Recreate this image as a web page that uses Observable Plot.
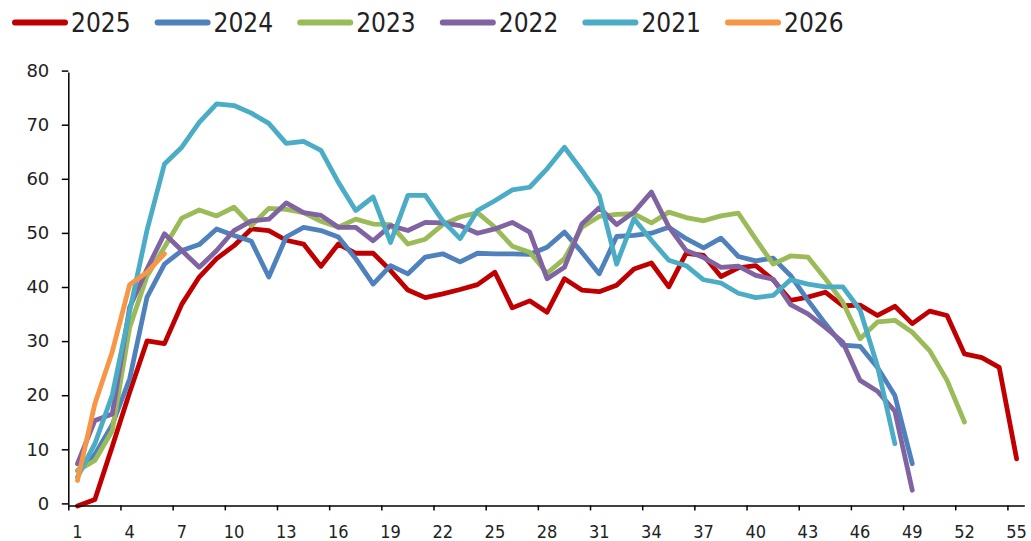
<!DOCTYPE html>
<html>
<head>
<meta charset="utf-8">
<script src="https://cdn.jsdelivr.net/npm/d3@7"></script>
<script src="https://cdn.jsdelivr.net/npm/@observablehq/plot@0.6"></script>
<style>
  html, body { margin: 0; padding: 0; background: #fff; overflow: hidden; }
  #legend { display: block; }
  #chart svg { display: block; }
</style>
</head>
<body>
<svg id="legend" width="1031" height="42"></svg>
<div id="chart"></div>
<script>
// ---- data ----
const seriesNames = ["2025", "2024", "2023", "2022", "2021", "2026"];
const seriesColors = ["#C00000", "#4F81BD", "#9BBB59", "#8064A2", "#4BACC6", "#F79646"];

const s2025 = [0, 1.2, 11, 21, 30.5, 30, 37.3, 42.3, 45.7, 48.1, 51.2, 50.9, 49.1, 48.4, 44.3,
  48.4, 46.7, 46.7, 43.5, 39.9, 38.5, 39.2, 40.0, 40.9, 43.2, 36.6, 37.9, 35.8, 42.0, 39.9,
  39.6, 40.8, 43.8, 44.9, 40.5, 46.7, 46.3, 42.4, 44.0, 44.4, 41.8, 38.0, 38.6, 39.5, 37.0,
  37.1, 35.2, 36.9, 33.7, 36.0, 35.2, 28.1, 27.4, 25.6, 8.7];
const s2024 = [6.5, 9.5, 15, 23.5, 38.6, 44.7, 47.2, 48.3, 51.2, 50.0, 48.9, 42.3, 49.7, 51.5, 50.9,
  49.7, 45.7, 41.0, 44.4, 42.9, 46.0, 46.6, 45.1, 46.7, 46.6, 46.6, 46.5, 47.8, 50.6, 46.9,
  42.9, 49.8, 50.0, 50.4, 51.5, 49.4, 47.7, 49.5, 46.1, 45.3, 45.8, 42.6, 38.0, 33.7, 29.7,
  29.5, 25.6, 20.4, 7.8];
const s2023 = [6.5, 8.4, 13.9, 33, 42.5, 47.8, 53.2, 54.7, 53.6, 55.2, 51.8, 55.0, 54.8, 54.2, 52.6,
  51.5, 53.0, 52.1, 52.0, 48.4, 49.3, 52.0, 53.4, 54.2, 51.5, 48.0, 46.9, 43.0, 45.7, 51.5,
  53.5, 53.9, 54.0, 52.3, 54.3, 53.3, 52.7, 53.6, 54.1, 49.3, 44.7, 46.2, 46.0, 42.0, 37.7,
  30.9, 34.0, 34.3, 32.1, 28.7, 23.2, 15.5];
const s2022 = [7.8, 15.8, 17.0, 36.7, 43.8, 50.3, 47.2, 44.1, 47.2, 50.9, 52.7, 53.0, 56.0, 54.2, 53.7,
  51.5, 51.5, 49.0, 51.8, 50.9, 52.4, 52.3, 51.8, 50.4, 51.2, 52.4, 50.6, 42.0, 44.1, 52.1,
  55.1, 52.0, 54.3, 58.0, 51.6, 47.2, 45.9, 44.1, 44.3, 42.6, 41.9, 37.2, 35.5, 33.0, 30.3,
  23.2, 21.2, 17.5, 2.9];
const s2021 = [5.3, 11.5, 20.5, 36, 51, 63.2, 66.3, 70.9, 74.3, 74.0, 72.6, 70.7, 67.0, 67.4, 65.7,
  59.8, 54.6, 57.1, 48.7, 57.4, 57.4, 52.7, 49.4, 54.6, 56.4, 58.4, 58.9, 62.3, 66.3, 62.0,
  57.4, 44.7, 53.1, 49.1, 45.4, 44.4, 41.8, 41.2, 39.3, 38.5, 38.9, 41.8, 41.0, 40.5, 40.5,
  36.2, 25.8, 11.5];
const s2026 = [4.7, 18.9, 28.5, 40.9, 43.2, 46.6];

const xTickLabels = [1, 4, 7, 10, 13, 16, 19, 22, 25, 28, 31, 34, 37, 40, 43, 46, 49, 52, 55];
const xTickMarks = [0.5, 3.5, 6.5, 9.5, 12.5, 15.5, 18.5, 21.5, 24.5, 27.5, 30.5, 33.5, 36.5, 39.5, 42.5, 45.5, 48.5, 51.5, 54.5];
const yTicks = [0, 10, 20, 30, 40, 50, 60, 70, 80];

// ---- build ----
const allSeries = [s2025, s2024, s2023, s2022, s2021, s2026];
const toRows = (arr) => arr.map((v, i) => ({week: i + 1, value: v}));

const condensed = "'Liberation Sans Narrow', 'DejaVu Sans Condensed', 'Arial Narrow', sans-serif";

const lineMarks = allSeries.map((arr, k) =>
  Plot.line(toRows(arr), {
    x: "week", y: "value",
    stroke: seriesColors[k], strokeWidth: 4.8,
    strokeLinejoin: "round", strokeLinecap: "round"
  })
);

const chart = Plot.plot({
  width: 1031,
  height: 499,
  marginLeft: 68.3,
  marginRight: 6.2,
  marginTop: 30.6,
  marginBottom: 35.6,
  style: {background: "#fff", color: "#000"},
  x: {domain: [0.5, 55.5], axis: null},
  y: {domain: [0, 80], axis: null},
  marks: [
    Plot.axisY({ticks: yTicks, anchor: "left", tickSize: 6.5, tickPadding: 13, strokeWidth: 1.5,
      fontSize: 18, fontFamily: "'DejaVu Sans', sans-serif", fill: "#222", dy: -2, label: null}),
    Plot.axisX({ticks: xTickMarks, anchor: "bottom", tickSize: 5, strokeWidth: 1.5,
      tickFormat: () => "", label: null}),
    Plot.axisX({ticks: xTickLabels, anchor: "bottom", tickSize: 0, tickPadding: 19,
      fontSize: 18, fontFamily: condensed, fontWeight: 300, fill: "#222", label: null}),
    ...lineMarks,
    Plot.ruleX([0.5], {y1: 0, y2: 80, stroke: "#000", strokeWidth: 1.5}),
    Plot.ruleY([0], {x1: 0.5, x2: 55.5, stroke: "#000", strokeWidth: 1.5})
  ]
});
document.getElementById("chart").appendChild(chart);

// ---- legend ----
const leg = d3.select("#legend");
seriesNames.forEach((name, i) => {
  const x0 = 12 + i * 142.6;
  leg.append("line")
    .attr("x1", x0 + 3).attr("x2", x0 + 53)
    .attr("y1", 22.5).attr("y2", 22.5)
    .attr("stroke", seriesColors[i]).attr("stroke-width", 6)
    .attr("stroke-linecap", "round");
  leg.append("text")
    .attr("x", x0 + 59).attr("y", 31.5)
    .attr("font-family", condensed)
    .attr("font-size", 26)
    .attr("font-weight", 300)
    .attr("fill", "#222")
    .text(name);
});
</script>
</body>
</html>
